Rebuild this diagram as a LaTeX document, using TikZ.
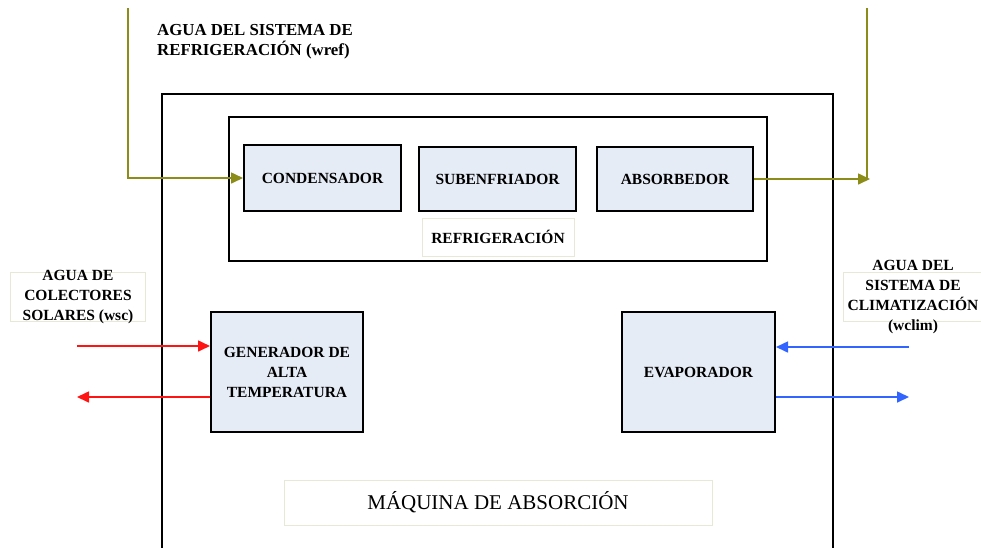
\documentclass[tikz,border=0pt]{standalone}
\usepackage{fontspec}
\setmainfont{Liberation Serif}
\usetikzlibrary{arrows.meta}
\definecolor{boxfill}{RGB}{230,236,246}
\definecolor{wolive}{RGB}{140,140,25}
\definecolor{wred}{RGB}{255,20,20}
\definecolor{wblue}{RGB}{50,100,255}
\definecolor{faint}{RGB}{232,232,214}
\tikzset{
  unit/.style={draw=black, line width=2pt, fill=boxfill, inner sep=0pt, align=center,
    font=\fontsize{15.5}{20}\selectfont\bfseries},
  frame/.style={draw=faint, line width=1pt, inner sep=0pt},
  lbl/.style={inner sep=0pt, align=center, font=\fontsize{15.5}{20}\selectfont\bfseries},
  wire/.style={line width=1.6pt, -{Triangle[length=12pt,width=11pt]}},
  plain/.style={line width=1.6pt}
}
\begin{document}
\begin{tikzpicture}[x=1pt,y=-1pt]
\useasboundingbox (0,0) rectangle (981,547);
% outer machine box (open at the bottom edge)
\draw[line width=1.6pt] (162,550) -- (162,94) -- (833,94) -- (833,550);
% refrigeration container
\node[draw=black, line width=1.6pt, inner sep=0pt, minimum width=538pt, minimum height=144pt] (refbox) at (498,189) {};
% units
\node[unit, minimum width=157pt, minimum height=66pt] (cond) at (322.5,178) {CONDENSADOR};
\node[unit, minimum width=157pt, minimum height=64pt] (sub) at (497.5,179) {SUBENFRIADOR};
\node[unit, minimum width=156pt, minimum height=64pt] (abs) at (675,179) {ABSORBEDOR};
\node[unit, minimum width=152pt, minimum height=120pt] (gen) at (287,372) {GENERADOR DE\\ALTA\\TEMPERATURA};
\node[unit, minimum width=153pt, minimum height=120pt] (evap) at (698.5,372) {EVAPORADOR};
% labels
\node[frame, minimum width=152pt, minimum height=38pt] (reff) at (498,237) {};
\node[lbl] (reft) at (reff) {REFRIGERACIÓN};
\node[frame, minimum width=428pt, minimum height=45pt] (maqf) at (498,502.5) {};
\node[lbl, font=\fontsize{21}{24}\selectfont] (maqt) at (maqf) {MÁQUINA DE ABSORCIÓN};
\node[frame, minimum width=135pt, minimum height=49pt] (wscf) at (77.5,296.5) {};
\node[lbl] (wsct) at (78,297) {AGUA DE\\COLECTORES\\SOLARES (wsc)};
\node[frame, minimum width=140pt, minimum height=49pt] (wclimf) at (913,296.5) {};
\node[lbl] (wclimt) at (913,297) {AGUA DEL\\SISTEMA DE\\CLIMATIZACIÓN\\(wclim)};
\node[lbl, anchor=west, align=left, font=\fontsize{16.8}{20}\selectfont\bfseries] (wreft) at (157,42) {AGUA DEL SISTEMA DE\\REFRIGERACIÓN (wref)};
% olive wires
\coordinate (wrefin) at (128,8);
\coordinate (wrefout) at (867,8);
\draw[wire, wolive] (wrefin) |- (cond.west);
\draw[wire, wolive] (abs.east) -- ([xshift=3pt]abs.east -| wrefout);
\draw[plain, wolive] (wrefout) -- (abs.east -| wrefout);
% red wires
\coordinate (wscin) at (77,346);
\coordinate (wscout) at (77,397);
\draw[wire, wred] (wscin) -- (wscin -| gen.west);
\draw[wire, wred] (wscout -| gen.west) -- (wscout);
% blue wires
\coordinate (wclimin) at (909,347);
\coordinate (wclimout) at (909,397);
\draw[wire, wblue] (wclimin) -- (wclimin -| evap.east);
\draw[wire, wblue] (wclimout -| evap.east) -- (wclimout);
\end{tikzpicture}
\end{document}
